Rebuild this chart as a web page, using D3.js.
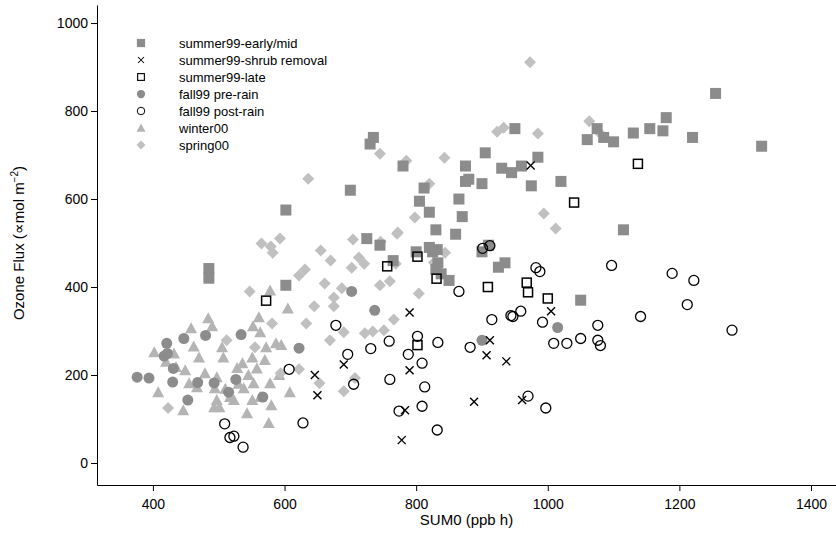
<!DOCTYPE html>
<html>
<head>
<meta charset="utf-8">
<script src="https://cdn.jsdelivr.net/npm/d3@7"></script>
<style>
  body { margin: 0; background: #fff; }
  svg text { font-family: "Liberation Sans", Arimo, Arial, sans-serif !important; }
</style>
</head>
<body>
<svg id="chart" width="836" height="553"></svg>
<script>
const xTicks = [400, 600, 800, 1000, 1200, 1400];
const yTicks = [0, 200, 400, 600, 800, 1000];

const summerEarly = [
  [485,442],[485,420],[602,575],[602,404],[700,620],[735,740],[730,725],[780,675],[820,570],[812,625],
  [805,595],[725,510],[745,495],[765,460],[800,480],[820,490],[832,485],[833,455],[838,430],[830,440],
  [860,520],[870,560],[865,600],[875,640],[875,675],[900,635],[905,705],[930,670],[950,760],[985,695],
  [975,630],[1020,640],[1060,735],[1075,760],[1085,740],[1100,730],[1130,750],[1155,760],[1175,755],[1180,785],
  [1220,740],[1255,840],[1325,720],[1115,530],[1050,370],[935,455],[910,495],[925,445],[850,415],[825,480],
  [830,530],[880,645],[960,675],[945,660],[900,480]
];
const summerShrub = [
  [974,676],[646,200],[650,154],[690,224],[790,342],[790,211],[783,120],[778,52],[888,139],[907,245],
  [912,279],[937,231],[961,143],[1005,345]
];
const summerLate = [
  [572,369],[756,447],[802,469],[831,419],[802,268],[909,400],[968,410],[970,388],[1000,374],[1040,592],[1137,680]
];
const fallPre = [
  [376,195],[394,193],[421,272],[417,243],[422,249],[431,215],[430,184],[447,283],[480,290],[534,292],
  [453,143],[493,182],[526,190],[515,161],[567,150],[622,261],[702,390],[737,347],[1015,308],[900,279],[468,183]
];
const fallPost = [
  [901,488],[912,494],[982,444],[988,435],[1097,449],[1189,431],[1222,415],[1212,360],[1280,302],[1141,333],
  [1076,313],[1076,279],[1080,267],[1050,283],[1029,272],[1009,272],[992,320],[959,345],[947,333],[944,335],
  [915,326],[882,263],[970,152],[997,125],[865,390],[802,288],[788,247],[809,227],[813,173],[809,129],
  [774,118],[832,75],[833,274],[760,190],[759,277],[731,260],[696,247],[705,179],[678,313],[607,213],
  [628,91],[509,89],[517,58],[523,61],[537,36]
];
const winter = [
  [402,252],[432,249],[435,218],[449,211],[455,181],[408,161],[458,306],[462,265],[484,329],[490,311],
  [446,120],[497,195],[494,170],[497,143],[501,127],[507,240],[505,263],[510,169],[523,143],[528,216],
  [536,227],[551,240],[552,311],[561,331],[563,297],[543,113],[538,170],[553,181],[558,215],[563,150],
  [570,234],[572,263],[576,91],[578,181],[580,131],[587,272],[595,268],[608,161],[605,351],[578,392],
  [592,200],[551,143],[517,150],[493,127],[479,204],[467,172],[420,230],[470,240],[530,180],[545,200]
];
const spring = [
  [973,911],[923,753],[933,762],[985,749],[1063,777],[1077,753],[994,567],[1012,533],[745,703],[785,687],
  [843,694],[820,635],[798,558],[772,524],[746,503],[704,508],[636,646],[593,510],[565,499],[579,492],
  [582,478],[631,440],[622,426],[655,483],[670,460],[713,467],[721,453],[702,444],[771,521],[769,453],
  [760,413],[745,404],[844,478],[827,456],[804,385],[766,326],[751,302],[722,295],[734,299],[690,297],
  [669,279],[633,317],[581,317],[547,390],[661,408],[675,356],[687,397],[675,376],[645,356],[707,193],
  [690,163],[653,181],[622,213],[594,204],[555,263],[512,279],[423,125]
];

const series = [
  { name: "summer99-early/mid", data: summerEarly, shape: "square", fill: "#8c8c8c", stroke: "none" },
  { name: "summer99-shrub removal", data: summerShrub, shape: "cross", fill: "none", stroke: "#000" },
  { name: "summer99-late", data: summerLate, shape: "square", fill: "none", stroke: "#000" },
  { name: "fall99 pre-rain", data: fallPre, shape: "circle", fill: "#8c8c8c", stroke: "none" },
  { name: "fall99 post-rain", data: fallPost, shape: "circle", fill: "none", stroke: "#000" },
  { name: "winter00", data: winter, shape: "triangle", fill: "#b4b4b4", stroke: "none" },
  { name: "spring00", data: spring, shape: "diamond", fill: "#c0c0c0", stroke: "none" }
];

const svg = d3.select("#chart");
const margin = { left: 97, right: 836, top: 5, bottom: 485 };

const x = d3.scaleLinear().domain([315, 1438]).range([margin.left, margin.right]);
const y = d3.scaleLinear().domain([-50, 1041]).range([margin.bottom, margin.top]);

function drawShape(g, shape, fill, stroke) {
  if (shape === "square") {
    const s = fill === "none" ? 9 : 11;
    g.append("rect").attr("x", -s / 2).attr("y", -s / 2).attr("width", s).attr("height", s)
      .attr("fill", fill).attr("stroke", stroke).attr("stroke-width", 1.5);
  } else if (shape === "circle") {
    g.append("circle").attr("r", fill === "none" ? 5 : 5.5)
      .attr("fill", fill).attr("stroke", stroke).attr("stroke-width", 1.3);
  } else if (shape === "cross") {
    g.append("path").attr("d", "M-4,-4L4,4M-4,4L4,-4")
      .attr("stroke", stroke).attr("stroke-width", 1.4);
  } else if (shape === "triangle") {
    g.append("path").attr("d", "M0,-6L6,5L-6,5Z").attr("fill", fill);
  } else if (shape === "diamond") {
    g.append("path").attr("d", "M0,-6L6,0L0,6L-6,0Z").attr("fill", fill);
  }
}

// points (lighter series drawn first so dark ones stay visible)
const drawOrder = [5, 6, 0, 3, 2, 1, 4];
drawOrder.forEach(i => {
  const s = series[i];
  s.data.forEach(d => {
    const g = svg.append("g").attr("transform", `translate(${x(d[0])},${y(d[1])})`);
    drawShape(g, s.shape, s.fill, s.stroke);
  });
});

// axes
const fmt = d3.format("d");
const xAxis = svg.append("g").attr("transform", `translate(0,${margin.bottom})`)
  .call(d3.axisBottom(x).tickValues(xTicks).tickFormat(fmt).tickSize(6).tickSizeOuter(0));
const yAxis = svg.append("g").attr("transform", `translate(${margin.left},0)`)
  .call(d3.axisLeft(y).tickValues(yTicks).tickFormat(fmt).tickSize(6).tickSizeOuter(0));
[xAxis, yAxis].forEach(a => {
  a.attr("font-family", null);
  a.selectAll("text").style("font-size", "14px").attr("fill", "#000");
  a.select(".domain").attr("stroke-width", 1);
});
xAxis.selectAll("text").attr("dy", "1.1em");

svg.append("text").attr("x", (margin.left + margin.right) / 2).attr("y", 525)
  .attr("text-anchor", "middle").style("font-size", "15px").text("SUM0 (ppb h)");

const yl = svg.append("text")
  .attr("transform", `translate(24,${y(500)}) rotate(-90)`)
  .attr("text-anchor", "middle").style("font-size", "15px");
yl.append("tspan").text("Ozone Flux (\u221Dmol m");
yl.append("tspan").attr("dy", -6).style("font-size", "10px").text("\u22122");
yl.append("tspan").attr("dy", 6).text(")");

// legend
const legend = svg.append("g").attr("transform", "translate(141,43)");
series.forEach((s, i) => {
  const row = legend.append("g").attr("transform", `translate(0,${i * 17})`);
  const g = row.append("g").attr("transform", "scale(0.75)");
  drawShape(g, s.shape, s.fill, s.stroke);
  row.append("text").attr("x", 38).attr("y", 5).style("font-size", "13px").text(s.name);
});
</script>
</body>
</html>
